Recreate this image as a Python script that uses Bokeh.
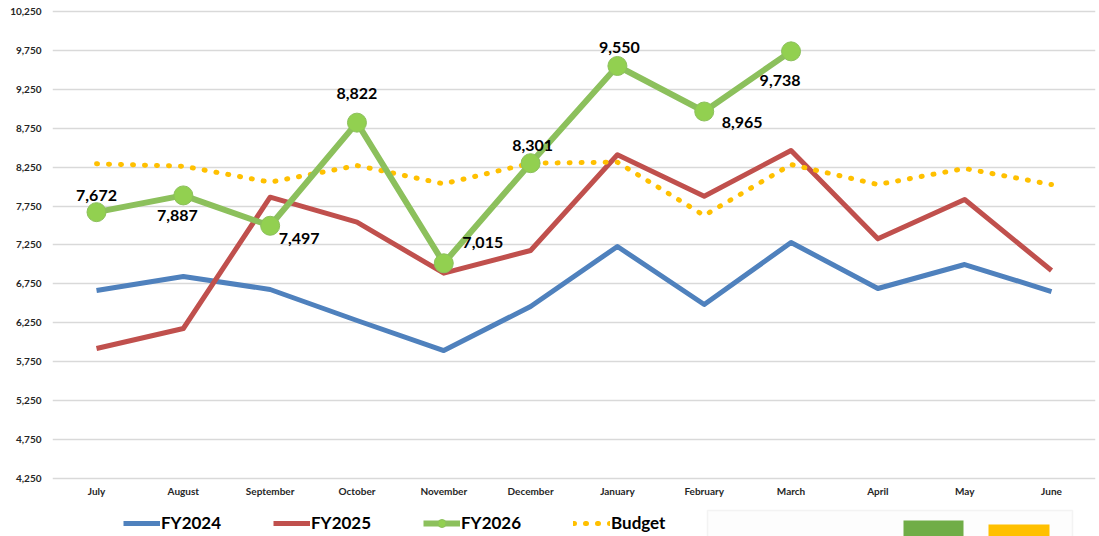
from bokeh.plotting import figure
from bokeh.layouts import column
from bokeh.models import (Range1d, FixedTicker, Legend, LegendItem, ColumnDataSource,
                          BoxAnnotation, NumeralTickFormatter)
from bokeh.core.properties import value
from bokeh.embed import file_html
from bokeh.resources import INLINE

months = ["July", "August", "September", "October", "November", "December",
          "January", "February", "March", "April", "May", "June"]
fy2024 = [6665, 6845, 6678, 6280, 5894, 6460, 7231, 6485, 7282, 6691, 6999, 6652]
fy2025 = [5920, 6177, 7864, 7543, 6888, 7179, 8409, 7877, 8464, 7329, 7835, 6922]
fy2026 = [7672, 7887, 7497, 8822, 7015, 8301, 9550, 8965, 9738]
budget = [8293, 8262, 8057, 8271, 8036, 8301, 8314, 7629, 8284, 8027, 8233, 8027]
y_ticks = [4250, 4750, 5250, 5750, 6250, 6750, 7250, 7750, 8250, 8750, 9250, 9750, 10250]

# label placement offsets (screen px) for FY2026 data labels
lab_dx = [0, -6, 29, 0, 39, 2, 2, 38, -11]
lab_dy = [-17, 20, 13, -29, -21, -18, -18, 11, 29]

FONT = "Lato"
COL24, COL25, COL26, COLB = "#4F81BD", "#C0504D", "#8CC05C", "#FFC000"
x = list(range(len(months)))
x26 = x[:len(fy2026)]

# ---------------- main chart ----------------
p = figure(width=1099, height=503, output_backend="svg", toolbar_location=None,
           x_range=Range1d(-0.507, 11.507), y_range=Range1d(4224, 10288.5),
           min_border_left=52, min_border_right=4, min_border_top=8, min_border_bottom=23)
p.outline_line_color = None
p.background_fill_color = "white"
p.border_fill_color = "white"

p.xaxis.ticker = FixedTicker(ticks=x)
p.xaxis.major_label_overrides = {i: m for i, m in enumerate(months)}
p.yaxis.ticker = FixedTicker(ticks=y_ticks)
p.yaxis.formatter = NumeralTickFormatter(format="0,0")
for ax in (p.xaxis[0], p.yaxis[0]):
    ax.axis_line_color = None
    ax.major_tick_line_color = None
    ax.minor_tick_line_color = None
    ax.major_tick_out = 0
    ax.major_tick_in = 0
    ax.minor_tick_out = 0
    ax.minor_tick_in = 0
    ax.major_label_text_font = FONT
    ax.major_label_text_font_style = "bold"
    ax.major_label_text_font_size = "10px"
    ax.major_label_text_color = "#262626"
p.yaxis.major_label_standoff = 11
p.xaxis.major_label_standoff = 4
p.xgrid.grid_line_color = None
p.ygrid.grid_line_color = "#D9D9D9"
p.ygrid.grid_line_width = 1.3

p.line(x, fy2024, line_color=COL24, line_width=5, line_join="round")
p.line(x, fy2025, line_color=COL25, line_width=5, line_join="round")
p.line(x, budget, line_color=COLB, line_width=5, line_dash="1 11", line_cap="round")
p.line(x26, fy2026, line_color=COL26, line_width=6, line_join="round")
p.scatter(x26, fy2026, size=19, fill_color="#92D050", line_color=COL26, line_width=1)

src = ColumnDataSource(dict(x=x26, y=fy2026, t=[f"{v:,}" for v in fy2026], dx=lab_dx, dy=lab_dy))
p.text(x="x", y="y", text="t", x_offset="dx", y_offset="dy", source=src,
       text_font=value(FONT), text_font_style="bold", text_font_size="16px",
       text_color="black", text_align="center", text_baseline="middle")

# ---------------- legend strip ----------------
# frame of this strip is aligned with the main frame (page x 52..1095)
q = figure(width=1099, height=33, output_backend="svg", toolbar_location=None,
           x_range=Range1d(52, 1095), y_range=Range1d(33, 0),
           min_border_left=52, min_border_right=4, min_border_top=0, min_border_bottom=0)
q.axis.visible = False
q.grid.visible = False
q.outline_line_color = None
q.background_fill_color = "white"
q.border_fill_color = "white"
# the same series, outside this strip's visible range, feed the legend swatches
l24 = q.line(x, fy2024, line_color=COL24, line_width=5)
l25 = q.line(x, fy2025, line_color=COL25, line_width=5)
l26 = q.line(x26, fy2026, line_color=COL26, line_width=6)
m26 = q.scatter(x26, fy2026, size=16, fill_color="#92D050", line_color=COL26, line_width=1)
lb = q.line(x, budget, line_color=COLB, line_width=5, line_dash="1 11", line_cap="round")

# fragment of a neighbouring object at the bottom right
q.add_layout(BoxAnnotation(left=707, right=1072, top=7, bottom=40,
                           fill_color="#FDFDFD", fill_alpha=1,
                           line_color="#D9D9D9", line_width=1.5, level="underlay"))
q.add_layout(BoxAnnotation(left=903, right=963, top=17, bottom=40,
                           fill_color="#70AD47", fill_alpha=1, line_color=None, level="underlay"))
q.add_layout(BoxAnnotation(left=988, right=1049, top=21, bottom=40,
                           fill_color="#FFC000", fill_alpha=1, line_color=None, level="underlay"))

legend = Legend(items=[
    LegendItem(label="FY2024", renderers=[l24]),
    LegendItem(label="FY2025", renderers=[l25]),
    LegendItem(label="FY2026", renderers=[l26, m26]),
    LegendItem(label="Budget", renderers=[lb]),
], orientation="horizontal", location=(71, 3), padding=0, margin=0, spacing=0,
    glyph_width=37, glyph_height=20, label_standoff=1, label_width=112, label_height=20,
    label_text_font=FONT, label_text_font_style="bold", label_text_font_size="17px",
    label_text_color="black", border_line_color=None, background_fill_alpha=0)
q.add_layout(legend, "center")

open("out.html", "w").write(file_html(column(p, q, spacing=0), INLINE))
